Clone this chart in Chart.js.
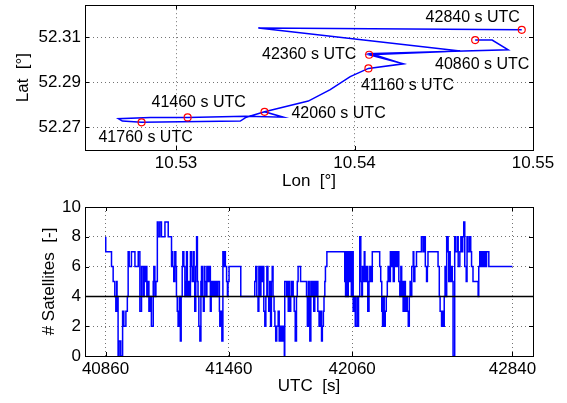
<!DOCTYPE html>
<html>
<head>
<meta charset="utf-8">
<title>GPS track and satellites</title>
<script src="https://cdn.jsdelivr.net/npm/chart.js@4.4.1/dist/chart.umd.min.js"></script>
<style>
  body { margin: 0; background: #fff; }
  canvas { display: block; }
</style>
</head>
<body>
<canvas id="trackChart" width="567" height="195"></canvas>
<canvas id="satChart" width="567" height="208"></canvas>
<script>
// track (lon / lat in degrees)
const trackLon = [10.54676, 10.54771, 10.54861, 10.54088, 10.54273, 10.54078, 10.53976, 10.53864, 10.53741,
    10.53496, 10.53601, 10.53388, 10.53065, 10.52856, 10.52677, 10.52699, 10.52807, 10.53136, 10.53360,
    10.53394, 10.53496, 10.53741, 10.53864, 10.53976, 10.54078, 10.54273, 10.54082, 10.54592, 10.53461, 10.54937];
const trackLat = [52.30883, 52.30883, 52.30448, 52.30283, 52.29826, 52.29622, 52.29261, 52.28683, 52.28174,
    52.27696, 52.27457, 52.27500, 52.27448, 52.27448, 52.27391, 52.27283, 52.27230, 52.27261, 52.27283,
    52.27457, 52.27696, 52.28174, 52.28683, 52.29261, 52.29622, 52.29826, 52.30230, 52.30391, 52.31413, 52.31335];

// marked positions
const markerTime = [40860, 41160, 41460, 41760, 42060, 42360, 42840];
const markerLon = [10.54676, 10.54078, 10.53065, 10.52807, 10.53496, 10.54082, 10.54937];
const markerLat = [52.30883, 52.29622, 52.27448, 52.27230, 52.27696, 52.30230, 52.31335];

const lonTicks = [10.53, 10.54, 10.55];
const latTicks = [52.27, 52.29, 52.31];

// number of satellites, value holds from each time until the next one
const satTime = [
    40861,40889,40897,40905,40910,40914,40916,40921,40926,40934,40943,40949,40959,40966,40970,40975,40986,41003,41019,41027,41035,41043,41048,41051,41056,41061,41066,41071,41076,41083,41092,
    41095,41100,41105,41112,41116,41124,41132,41149,41165,41181,41185,41187,41192,41197,41202,41205,41209,41213,41219,41224,41228,
    41233,41236,41241,41246,41251,41254,41258,41262,41268,41273,41278,41282,41287,41291,41294,41299,41303,41307,41310,41314,41319,41324,41327,41331,
    41336,41340,41343,41348,41353,41359,41364,41370,41374,41377,41384,41389,41394,41400,41406,41414,41416,41421,41426,41431,41434,41439,41443,41449,41453,41456,41461,41518,
    41586,41591,41596,41602,41606,41611,41616,41620,41625,41630,41635,41640,41645,41650,41654,41659,41663,41667,41671,41675,41680,41684,41688,41693,41700,
    41705,41710,41716,41723,41730,41732,41741,41744,41749,41753,41757,41761,41766,41773,41778,41783,41789,41793,41797,41809,
    41838,41842,41847,41851,41854,41859,41862,41869,41873,41878,41883,41888,41893,41899,41905,41911,41915,41920,41923,41927,41930,41937,
    42024,42028,42031,42036,42041,42046,42051,42056,42061,42065,42070,42075,42083,42087,42091,42097,42102,42107,
    42110,42114,42119,42122,42126,42131,42136,42142,42146,42151,42158,42194,42199,
    42204,42208,42211,42216,42221,42226,42231,42235,42241,42246,42251,42255,42260,42265,42267,42274,42277,42282,42287,42292,42297,
    42301,42305,42308,42314,42319,42324,42328,42333,42338,42342,42345,42350,42357,42360,42365,42373,42397,42405,42410,42416,42422,42426,42429,
    42478,42484,42488,42495,42499,42503,42508,42512,42516,42520,42527,42530,42535,42537,42542,42547,42551,42559,
    42562,42571,42576,42584,42589,42592,42598,42603,42608,42615,42619,42624,42632,42637,42641,42648,42673,42676,42681,42686,42691,42697,42702,42708,42714,42725,42827,42840
];
const satCount = [
    8,7,6,5,4,3,5,4,0,1,0,3,2,3,4,7,6,7,6,7,3,6,4,6,5,6,4,5,3,4,2,
    5,6,4,5,9,8,9,8,9,8,6,7,6,5,7,6,4,3,2,4,1,
    4,6,7,6,4,5,7,4,5,4,7,6,5,7,5,3,6,8,5,4,2,1,5,6,
    4,3,6,5,4,6,5,6,3,5,4,5,4,5,4,5,3,2,3,1,7,6,7,6,5,4,5,6,
    4,5,6,4,3,6,4,6,5,6,3,2,4,6,4,3,5,2,5,6,4,3,2,1,2,
    3,1,2,1,2,0,5,4,5,3,5,3,4,5,4,3,1,4,5,6,
    5,4,2,5,4,1,5,4,5,3,5,4,5,3,2,3,1,2,3,4,5,6,
    7,5,4,7,4,7,5,7,4,7,3,4,2,4,2,4,8,5,
    4,6,5,7,6,5,6,3,5,6,5,7,6,
    5,3,2,4,2,3,4,5,6,5,7,6,7,5,7,6,7,6,7,5,4,
    6,4,5,3,5,3,4,3,2,4,5,4,6,7,5,6,7,8,7,8,6,5,6,
    7,6,4,3,2,3,2,4,6,4,8,7,5,7,5,6,5,0,
    8,7,8,6,7,8,7,8,9,6,5,8,7,8,7,6,5,4,6,7,6,7,6,7,6,7,6,6
];
const satLimit = 4;
const utcTicks = [40860, 41460, 42060, 42840];
const satTicks = [0, 2, 4, 6, 8, 10];

const fontName = '"Liberation Sans", Arial, Helvetica, sans-serif';
const blue = 'rgb(0, 0, 255)';

/* box round the plot area with short inward tick marks */
const framePlugin = {
    id: 'frame',
    afterDraw(chart) {
        const {ctx, chartArea: a, scales} = chart;
        ctx.save();
        ctx.strokeStyle = '#000';
        ctx.lineWidth = 1;
        ctx.beginPath();
        scales.x.ticks.forEach(t => {
            const px = Math.round(scales.x.getPixelForValue(t.value)) + 0.5;
            ctx.moveTo(px, a.bottom); ctx.lineTo(px, a.bottom - 4);
            ctx.moveTo(px, a.top); ctx.lineTo(px, a.top + 4);
        });
        scales.y.ticks.forEach(t => {
            const py = Math.round(scales.y.getPixelForValue(t.value)) + 0.5;
            ctx.moveTo(a.left, py); ctx.lineTo(a.left + 4, py);
            ctx.moveTo(a.right, py); ctx.lineTo(a.right - 4, py);
        });
        ctx.stroke();
        ctx.strokeRect(Math.round(a.left) + 0.5, Math.round(a.top) + 0.5,
            Math.round(a.right - a.left), Math.round(a.bottom - a.top));
        ctx.restore();
    }
};

// where each time label sits relative to its marker (pixels)
const labelShift = [[7, 25], [39, 17], [11, -15], [4, 15], [74, 2], [-60, 0], [-49, -12]];

const labelPlugin = {
    id: 'timeLabels',
    afterDatasetsDraw(chart) {
        const {ctx, scales} = chart;
        ctx.save();
        ctx.font = '16px ' + fontName;
        ctx.fillStyle = '#000';
        ctx.textAlign = 'center';
        ctx.textBaseline = 'middle';
        markerTime.forEach((t, i) => {
            const px = scales.x.getPixelForValue(markerLon[i]) + labelShift[i][0];
            const py = scales.y.getPixelForValue(markerLat[i]) + labelShift[i][1];
            ctx.fillText(t + ' s UTC', px, py);
        });
        ctx.restore();
    }
};

const gridOpts = { color: 'rgba(0,0,0,0.55)', lineWidth: 1, drawTicks: false, borderDash: [1, 3] };
const borderOpts = { display: false, dash: [1, 3] };
const tickFont = { family: fontName, size: 17 };

// fixed axis sizes, no extra room for label overflow
const fixWidth = s => { s.width = 85; s.paddingTop = 0; s.paddingBottom = 0; };
const fixHeight = h => s => { s.height = h; s.paddingLeft = 0; s.paddingRight = 0; };

//upper plot
const trackCtx = document.getElementById('trackChart').getContext('2d');
const trackChart = new Chart(trackCtx, {
    type: 'scatter',
    data: {
        datasets: [{
            label: 'markers',
            data: markerLon.map((lon, i) => ({x: lon, y: markerLat[i]})),
            showLine: false,
            pointRadius: 3.5,
            pointBorderWidth: 1.2,
            pointBorderColor: 'rgb(255, 0, 0)',
            pointBackgroundColor: 'rgba(0,0,0,0)'
        }, {
            label: 'track',
            data: trackLon.map((lon, i) => ({x: lon, y: trackLat[i]})),
            showLine: true,
            borderColor: blue,
            borderWidth: 1.5,
            pointRadius: 0,
            tension: 0
        }]
    },
    options: {
        responsive: false,
        animation: false,
        devicePixelRatio: 1,
        layout: { padding: { top: 2, right: 34, bottom: 0, left: 0 } },
        plugins: { legend: { display: false }, tooltip: { enabled: false } },
        scales: {
            x: {
                type: 'linear',
                min: 10.5249,
                max: 10.55,
                afterBuildTicks: s => { s.ticks = lonTicks.map(v => ({value: v})); },
                afterFit: fixHeight(45),
                ticks: { callback: v => v.toFixed(2), font: tickFont, color: '#000', padding: 3, maxRotation: 0 },
                grid: gridOpts,
                border: borderOpts,
                title: { display: true, text: 'Lon  [°]', font: tickFont, color: '#000', padding: { top: 0, bottom: 3 } }
            },
            y: {
                type: 'linear',
                min: 52.26,
                max: 52.3243,
                afterBuildTicks: s => { s.ticks = latTicks.map(v => ({value: v})); },
                afterFit: fixWidth,
                ticks: { callback: v => v.toFixed(2), font: tickFont, color: '#000', padding: 4 },
                grid: gridOpts,
                border: borderOpts,
                title: { display: true, text: 'Lat  [°]', font: tickFont, color: '#000', padding: { top: 13, bottom: 0 } }
            }
        }
    },
    plugins: [framePlugin, labelPlugin]
});

//lower plot
const satCtx = document.getElementById('satChart').getContext('2d');
const satChart = new Chart(satCtx, {
    type: 'scatter',
    data: {
        datasets: [{
            label: 'limit',
            data: [{x: 40760, y: satLimit}, {x: 42940, y: satLimit}],
            showLine: true,
            borderColor: '#000',
            borderWidth: 1.5,
            pointRadius: 0
        }, {
            label: '# Satellites',
            data: satTime.map((t, i) => ({x: t, y: satCount[i]})),
            showLine: true,
            stepped: 'after',
            borderColor: blue,
            borderWidth: 1.5,
            pointRadius: 0
        }]
    },
    options: {
        responsive: false,
        animation: false,
        devicePixelRatio: 1,
        layout: { padding: { top: 12, right: 34, bottom: 0, left: 0 } },
        plugins: { legend: { display: false }, tooltip: { enabled: false } },
        scales: {
            x: {
                type: 'linear',
                min: 40760,
                max: 42940,
                afterBuildTicks: s => { s.ticks = utcTicks.map(v => ({value: v})); },
                afterFit: fixHeight(47),
                ticks: { callback: v => String(v), font: tickFont, color: '#000', padding: 3, maxRotation: 0 },
                grid: gridOpts,
                border: borderOpts,
                title: { display: true, text: 'UTC  [s]', font: tickFont, color: '#000', padding: { top: 0, bottom: 6 } }
            },
            y: {
                type: 'linear',
                min: 0,
                max: 10,
                afterBuildTicks: s => { s.ticks = satTicks.map(v => ({value: v})); },
                afterFit: fixWidth,
                ticks: { callback: v => String(v), font: tickFont, color: '#000', padding: 4 },
                grid: gridOpts,
                border: borderOpts,
                title: { display: true, text: '# Satellites  [-]', font: tickFont, color: '#000', padding: { top: 39, bottom: 0 } }
            }
        }
    },
    plugins: [framePlugin]
});
</script>
</body>
</html>
